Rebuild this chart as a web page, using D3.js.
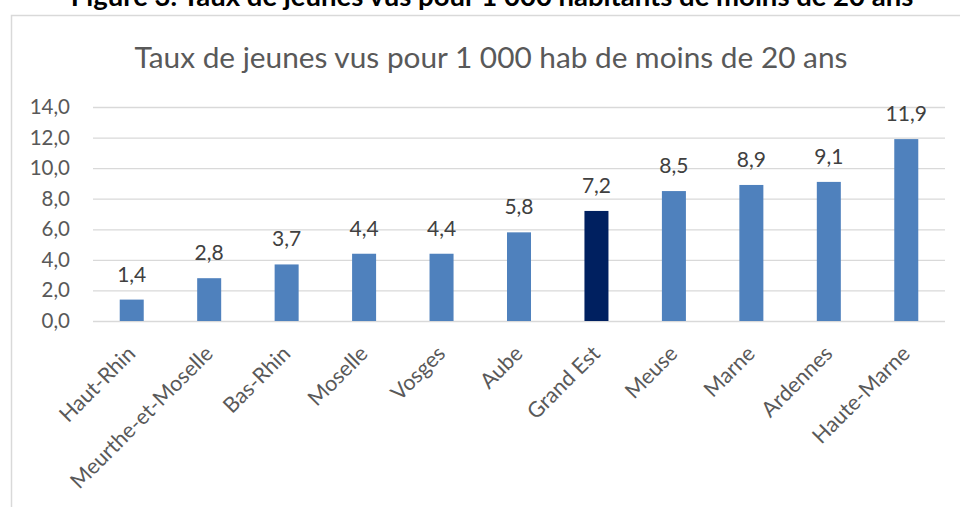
<!DOCTYPE html>
<html>
<head>
<meta charset="utf-8">
<script src="https://cdn.jsdelivr.net/npm/d3@7"></script>
<style>
  body { margin: 0; background: #fff; }
  svg text { font-family: Lato, "Open Sans", sans-serif; }
</style>
</head>
<body>
<div id="chart"></div>
<script>
const departements = ["Haut-Rhin", "Meurthe-et-Moselle", "Bas-Rhin", "Moselle", "Vosges", "Aube",
  "Grand Est", "Meuse", "Marne", "Ardennes", "Haute-Marne"];
const taux = [1.4, 2.8, 3.7, 4.4, 4.4, 5.8, 7.2, 8.5, 8.9, 9.1, 11.9];
const yTicks = [0, 2, 4, 6, 8, 10, 12, 14];
const highlight = "Grand Est";

const width = 960, height = 507;
const margin = { top: 107, right: 15, bottom: 186, left: 93 };

const svg = d3.select('#chart').append('svg')
  .attr('width', width)
  .attr('height', height);

// figure heading, cut off by the top edge as in the source
svg.append('text')
  .attr('x', 492)
  .attr('y', 6)
  .attr('text-anchor', 'middle')
  .attr('font-weight', 'bold')
  .attr('font-size', 27.5)
  .attr('fill', '#000')
  .text('Figure 3. Taux de jeunes vus pour 1 000 habitants de moins de 20 ans');

// chart frame
svg.append('rect')
  .attr('x', 11.5)
  .attr('y', 15.5)
  .attr('width', 970)
  .attr('height', 520)
  .attr('fill', 'none')
  .attr('stroke', '#d9d9d9')
  .attr('stroke-width', 1.5);

svg.append('text')
  .attr('x', 491)
  .attr('y', 68)
  .attr('text-anchor', 'middle')
  .attr('font-size', 29.8)
  .attr('fill', '#595959')
  .text('Taux de jeunes vus pour 1 000 hab de moins de 20 ans');

const x = d3.scaleBand()
  .domain(departements)
  .range([margin.left, width - margin.right])
  .paddingInner(0.69)
  .paddingOuter(0.345);

const y = d3.scaleLinear()
  .domain([0, 14])
  .range([height - margin.bottom, margin.top]);

const fmt = v => d3.format('.1f')(v).replace('.', ',');

// gridlines
const yAxis = d3.axisLeft(y)
  .tickValues(yTicks)
  .tickSize(-(width - margin.right - margin.left))
  .tickFormat(fmt)
  .tickPadding(23);

const gy = svg.append('g')
  .attr('transform', `translate(${margin.left},0)`)
  .call(yAxis);
gy.select('.domain').remove();
gy.selectAll('.tick line').attr('stroke', '#d9d9d9').attr('stroke-width', 1.3);
gy.selectAll('.tick text')
  .attr('font-size', 20.5)
  .attr('fill', '#595959')
  .attr('font-family', 'Lato, sans-serif');

// bars
svg.selectAll('.bar')
  .data(taux)
  .enter()
  .append('rect')
  .attr('class', 'bar')
  .attr('x', (d, i) => x(departements[i]))
  .attr('width', x.bandwidth())
  .attr('y', d => y(d))
  .attr('height', d => y(0) - y(d))
  .attr('fill', (d, i) => departements[i] === highlight ? '#002060' : '#4f81bd');

// value labels
svg.selectAll('.val')
  .data(taux)
  .enter()
  .append('text')
  .attr('class', 'val')
  .attr('x', (d, i) => x(departements[i]) + x.bandwidth() / 2)
  .attr('y', d => y(d) - 18)
  .attr('text-anchor', 'middle')
  .attr('font-size', 21)
  .attr('fill', '#404040')
  .text(fmt);

// x axis
const xAxis = d3.axisBottom(x).tickSize(0).tickPadding(0);
const gx = svg.append('g')
  .attr('transform', `translate(0,${y(0)})`)
  .call(xAxis);
gx.select('.domain').remove();
gx.selectAll('.tick text')
  .attr('font-size', 21.5)
  .attr('fill', '#595959')
  .attr('font-family', 'Lato, sans-serif')
  .attr('text-anchor', 'end')
  .attr('dy', 0)
  .attr('transform', 'translate(5,34) rotate(-45)');
</script>
</body>
</html>
